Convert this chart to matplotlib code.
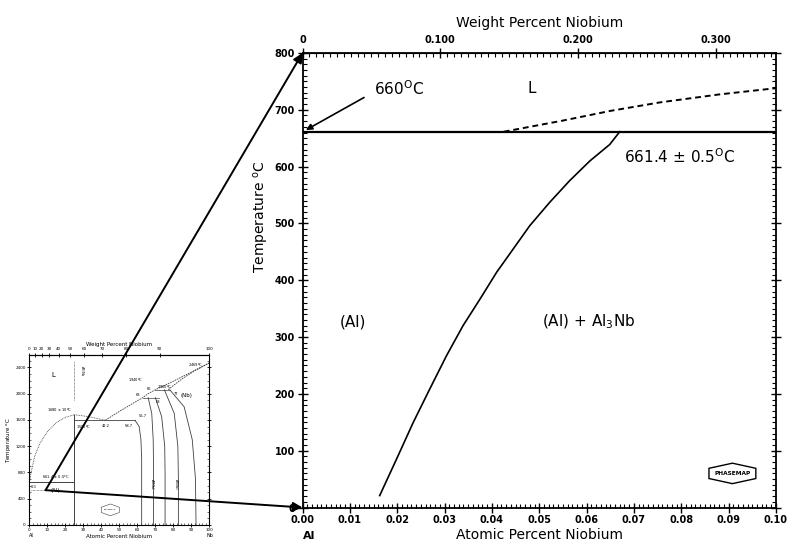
import numpy as np
import matplotlib.pyplot as plt
from matplotlib.ticker import MultipleLocator, FixedLocator, FixedFormatter
from matplotlib.patches import Polygon, ConnectionPatch

# Al-rich corner (main chart), at.% Nb vs temperature
solvus_at = [0.0163, 0.0199, 0.0234, 0.0269, 0.0304, 0.0339, 0.0375,
             0.0410, 0.0445, 0.0480, 0.0522, 0.0564, 0.0607, 0.0649, 0.0670]
solvus_T = [21, 86, 150, 209, 267, 320, 367,
            414, 455, 496, 537, 575, 610, 639, 661.4]
liq_at = [0.0425, 0.055, 0.065, 0.0755, 0.088, 0.100]
liq_T = [661.4, 681, 698, 713, 727, 738]
peritectic_T = 661.4

main_yticks = [0, 100, 200, 300, 400, 500, 600, 700, 800]
main_xticks = [0.00, 0.01, 0.02, 0.03, 0.04, 0.05, 0.06, 0.07, 0.08, 0.09, 0.10]
main_wt_ticks = [0, 0.1, 0.2, 0.3]
main_wt_labels = ["0", "0.100", "0.200", "0.300"]

# whole Al-Nb system (small inset)
in_liq1_at = [0, 1, 3, 6, 10, 15, 20, 25]
in_liq1_T = [660, 800, 1050, 1250, 1420, 1560, 1640, 1680]
in_liq2_at = [25, 33, 42.2]
in_liq2_T = [1680, 1650, 1595]
in_liq3_at = [42.2, 50, 58, 63, 66, 70, 80, 90, 100]
in_liq3_T = [1595, 1730, 1860, 1940, 2000, 2060, 2190, 2330, 2469]
in_sol_at = [100, 92, 85, 77]
in_sol_T = [2469, 2350, 2230, 2060]
in_sig_l_at = [58.7, 61, 62, 62.4, 62.4]
in_sig_l_T = [1595, 1500, 1300, 1000, 0]
in_sig_r_at = [66, 68, 68.8, 69, 69]
in_sig_r_T = [1940, 1700, 1300, 900, 0]
in_nb3_l_at = [70, 73.5, 75.2, 75.4, 75.4]
in_nb3_l_T = [1940, 1650, 1200, 800, 0]
in_nb3_r_at = [75, 80.5, 82.5, 82.8, 82.8]
in_nb3_r_T = [2060, 1700, 1200, 700, 0]
in_nb_at = [78, 86, 90.5, 92.3, 92.6]
in_nb_T = [2060, 1800, 1300, 700, 0]
in_wt_ticks = [0, 10, 20, 30, 40, 50, 60, 70, 80, 90, 100]

M_AL, M_NB = 26.98, 92.91


def at_to_wt(a):
    a = np.asarray(a, dtype=float)
    with np.errstate(all="ignore"):
        return 100 * a * M_NB / (a * M_NB + (100 - a) * M_AL)


def wt_to_at(w):
    w = np.asarray(w, dtype=float)
    with np.errstate(all="ignore"):
        return 100 * (w / M_NB) / (w / M_NB + (100 - w) / M_AL)


plt.rcParams["font.family"] = "DejaVu Sans"
fig = plt.figure(figsize=(7.93, 5.46), dpi=100)

# ---- main chart
ax = fig.add_axes([0.3815, 0.0705, 0.5970, 0.8325])
ax.set_xlim(0, 0.10)
ax.set_ylim(0, 800)
ax.plot(solvus_at, solvus_T, color="k", lw=1.2)
ax.plot(liq_at, liq_T, color="k", lw=1.4, ls=(0, (3, 2)))
ax.axhline(peritectic_T, color="k", lw=1.6)

ax.set_xticks(main_xticks)
ax.set_xticklabels(["%.2f" % v for v in main_xticks])
ax.set_yticks(main_yticks)
ax.xaxis.set_minor_locator(MultipleLocator(0.001))
ax.yaxis.set_minor_locator(MultipleLocator(10))
ax.tick_params(which="major", direction="inout", length=7, width=1.0,
               labelsize=7, right=True, top=False, pad=2)
ax.tick_params(which="minor", direction="in", length=3, width=0.8,
               right=True, top=False)
for lab in ax.get_xticklabels() + ax.get_yticklabels():
    lab.set_fontweight("bold")
for s in ax.spines.values():
    s.set_linewidth(1.3)

ax.set_xlabel("Atomic Percent Niobium", fontsize=10, labelpad=2)
ax.set_ylabel("Temperature $^{\\rm o}$C", fontsize=10)
ax.yaxis.set_label_coords(-0.066, 0.64)
fig.text(309 / 793, 1 - 536 / 546, "Al", fontsize=8, fontweight="bold",
         ha="center", va="center")

top = ax.secondary_xaxis("top", functions=(at_to_wt, wt_to_at))
top.xaxis.set_major_locator(FixedLocator(main_wt_ticks))
top.xaxis.set_major_formatter(FixedFormatter(main_wt_labels))
top.xaxis.set_minor_locator(MultipleLocator(0.005))
top.tick_params(which="major", direction="inout", length=7, width=1.0,
                labelsize=7, pad=2)
top.tick_params(which="minor", direction="in", length=3, width=0.8)
for lab in top.get_xticklabels():
    lab.set_fontweight("bold")
top.set_xlabel("Weight Percent Niobium", fontsize=10, labelpad=6)

ax.annotate("", xy=(0.0002, 662), xytext=(0.0135, 724),
            arrowprops=dict(arrowstyle="-|>", color="k", lw=1.2,
                            mutation_scale=9))
ax.text(0.0150, 738, "660$^{\\rm O}$C", fontsize=11, va="center")
ax.text(0.0484, 738, "L", fontsize=11, va="center", ha="center")
ax.text(0.0680, 617, "661.4 \u00b1 0.5$^{\\rm O}$C", fontsize=11,
        va="center")
ax.text(0.0106, 326, "(Al)", fontsize=11, va="center", ha="center")
ax.text(0.0505, 326, "(Al) + Al$_3$Nb", fontsize=11, va="center")

# PHASEMAP badge
cx, cy, w, h = 0.0908, 60, 0.0099, 36
hexa = [(cx - w / 2, cy + h / 4), (cx, cy + h / 2), (cx + w / 2, cy + h / 4),
        (cx + w / 2, cy - h / 4), (cx, cy - h / 2), (cx - w / 2, cy - h / 4)]
ax.add_patch(Polygon(hexa, closed=True, fill=False, ec="k", lw=1.0))
ax.text(cx, cy, "PHASEMAP", fontsize=4.2, fontweight="bold",
        ha="center", va="center")

# ---- inset: full Al-Nb diagram
ins = fig.add_axes([0.037, 0.0385, 0.227, 0.3114])
ins.set_xlim(0, 100)
ins.set_ylim(0, 2590)
gray = "0.25"
ins.plot(in_liq1_at, in_liq1_T, color=gray, lw=0.6, ls=(0, (1, 1)))
ins.plot(in_liq2_at, in_liq2_T, color=gray, lw=0.6, ls=(0, (1, 1)))
ins.plot(in_liq3_at, in_liq3_T, color=gray, lw=0.6, ls=(0, (2, 1)))
ins.plot(in_sol_at, in_sol_T, color=gray, lw=0.6, ls=(0, (2, 1)))
for xs, ys in [(in_sig_l_at, in_sig_l_T), (in_sig_r_at, in_sig_r_T),
               (in_nb3_l_at, in_nb3_l_T), (in_nb3_r_at, in_nb3_r_T),
               (in_nb_at, in_nb_T)]:
    ins.plot(xs, ys, color=gray, lw=0.6)
ins.plot([25, 25], [0, 1680], color=gray, lw=0.7)
ins.plot([25, 25], [1900, 2500], color=gray, lw=0.5, ls=(0, (1, 1)))
ins.plot([0, 25], [661.4, 661.4], color=gray, lw=0.7)
ins.plot([25, 58.7], [1595, 1595], color=gray, lw=0.6)
ins.plot([63, 72], [1940, 1940], color=gray, lw=0.5)
ins.plot([70, 78], [2060, 2060], color=gray, lw=0.5)
ins.plot([1, 11], [530, 530], color=gray, lw=0.5, ls=(0, (1, 1)))

fs = 2.6
ins.text(12, 2250, "L", fontsize=5)
ins.text(27, 2350, "Al$_3$Nb", fontsize=fs, rotation=270, va="center")
ins.text(10, 1720, "1680 \u00b1 10$^{\\rm o}$C", fontsize=fs)
ins.text(26, 1470, "1595$^{\\rm o}$C", fontsize=fs)
ins.text(40, 1500, "42.2", fontsize=fs)
ins.text(53, 1500, "58.7", fontsize=fs)
ins.text(61, 1640, "56.7", fontsize=fs)
ins.text(7, 700, "661.4 \u00b1 0.5$^{\\rm o}$C", fontsize=fs)
ins.text(1, 570, "0.3", fontsize=fs)
ins.text(12, 500, "(Al)", fontsize=4)
ins.text(84, 1950, "(Nb)", fontsize=4)
ins.text(88, 2420, "2469$^{\\rm o}$C", fontsize=fs)
ins.text(55, 2180, "1940$^{\\rm o}$C", fontsize=fs)
ins.text(71, 2080, "2060$^{\\rm o}$C", fontsize=fs)
ins.text(59, 1960, "63", fontsize=fs)
ins.text(65, 2060, "66", fontsize=fs)
ins.text(70, 1860, "68", fontsize=fs)
ins.text(80, 1980, "77", fontsize=fs)
ins.text(66, 620, "AlNb$_2$", fontsize=fs, rotation=270, va="center")
ins.text(79, 620, "AlNb$_3$", fontsize=fs, rotation=270, va="center")
pc, pcy = 45, 230
ins.add_patch(Polygon([(pc - 5, pcy + 40), (pc, pcy + 90), (pc + 5, pcy + 40),
                       (pc + 5, pcy - 40), (pc, pcy - 90), (pc - 5, pcy - 40)],
                      closed=True, fill=False, ec=gray, lw=0.4))
ins.text(pc, pcy, "PHASEMAP", fontsize=1.6, ha="center", va="center")

ins.set_xticks(range(0, 101, 10))
ins.set_yticks(range(0, 2401, 400))
ins.xaxis.set_minor_locator(MultipleLocator(2))
ins.yaxis.set_minor_locator(MultipleLocator(100))
ins.tick_params(which="major", direction="inout", length=3, width=0.6,
                labelsize=3, pad=1, right=True, top=False)
ins.tick_params(which="minor", direction="in", length=1.5, width=0.4,
                right=True, top=False)
for s in ins.spines.values():
    s.set_linewidth(0.8)
ins.set_xlabel("Atomic Percent Niobium", fontsize=4, labelpad=1)
ins.set_ylabel("Temperature $^{\\rm o}$C", fontsize=4, labelpad=1)
ins_top = ins.secondary_xaxis("top", functions=(at_to_wt, wt_to_at))
ins_top.set_xticks(in_wt_ticks)
ins_top.tick_params(direction="inout", length=3, width=0.6, labelsize=3,
                    pad=1)
ins_top.set_xlabel("Weight Percent Niobium", fontsize=4, labelpad=1)
fig.text(31 / 793, 1 - 537 / 546, "Al", fontsize=3.5, ha="center")
fig.text(210 / 793, 1 - 537 / 546, "Nb", fontsize=3.5, ha="center")

# lines from the inset to the enlarged corner
for yT in (800, 0):
    con = ConnectionPatch(xyA=(9, 530), coordsA=ins.transData,
                          xyB=(0, yT), coordsB=ax.transData,
                          arrowstyle="-|>", mutation_scale=14, lw=1.4,
                          color="k", zorder=10)
    fig.add_artist(con)

fig.savefig("out.png", dpi=100)
